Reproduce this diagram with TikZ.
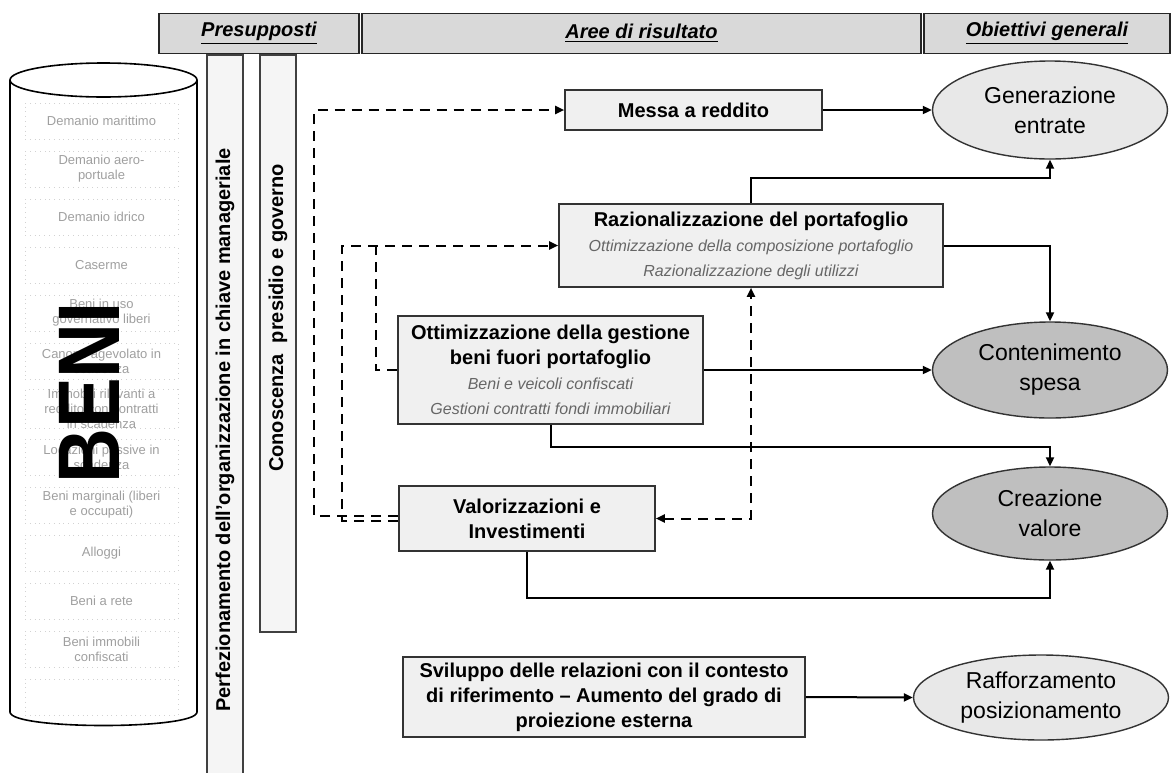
\documentclass[tikz,border=0pt]{standalone}
\usepackage{fontspec}
\setmainfont{Liberation Sans}
\usepackage{graphicx}
\usepackage{xcolor}
\usepackage{tikz}
\usetikzlibrary{arrows.meta,positioning,shapes.geometric}

\newcommand{\areasub}[1]{{\fontsize{8}{11}\selectfont\mdseries\itshape\color{black!60}#1}}

\begin{document}
\begin{tikzpicture}[x=0.5pt,y=-0.5pt,
        >={Triangle[length=4.5pt,width=4pt]},
        head/.style={draw=black!85, line width=0.9pt, fill=gray!30, minimum height=20pt,
            font=\fontsize{10}{12}\selectfont\bfseries\itshape},
        vbar/.style={draw=black!75, line width=0.8pt, fill=gray!8, rotate=90,
            minimum height=18pt, inner sep=0pt, font=\fontsize{10}{12}\selectfont\bfseries},
        item/.style={draw=gray!35, dotted, minimum width=76.5pt, minimum height=18pt,
            inner sep=0pt, align=center, text=gray!75, font=\fontsize{6.5}{7.4}\selectfont},
        area/.style={draw=black!80, line width=0.8pt, fill=gray!12, align=center,
            inner sep=2pt, font=\fontsize{10}{12.5}\selectfont\bfseries},
        goal/.style={ellipse, draw=black!80, line width=0.7pt, align=center,
            inner sep=0pt, font=\fontsize{11.5}{15}\selectfont},
        link/.style={line width=1pt, ->},
        dlink/.style={link, dash pattern=on 5pt off 3.5pt}]
    \useasboundingbox (0,0) rectangle (1173,772);

    % intestazioni
    \node[head, minimum width=100pt] (hpre) at (259,33.5) {\underline{Presupposti}};
    \node[head, minimum width=279.5pt] (hare) at (641.5,33.5) {\underline{Aree di risultato}};
    \node[head, minimum width=123pt] (hobi) at (1047,33.5) {\underline{Obiettivi generali}};

    % cilindro dei beni
    \draw[line width=0.8pt] (10,80) -- (10,712) .. controls (10,730) and (197,730) .. (197,712) -- (197,80);
    \draw[line width=0.8pt, fill=white] (103.5,80) ellipse [x radius=93.5, y radius=17];
    \foreach \k/\txt in {0/Demanio marittimo, 1/{Demanio aero-\\portuale}, 2/Demanio idrico,
            3/Caserme, 4/{Beni in uso\\governativo liberi}, 5/{Canone agevolato in\\scadenza},
            6/{Immobili rilevanti a\\reddito con contratti\\in scadenza},
            7/{Locazioni passive in\\scadenza}, 8/{Beni marginali (liberi\\e occupati)},
            9/Alloggi, 10/Beni a rete, 11/{Beni immobili\\confiscati}, 12/{}} {
            \node[item] (it\k) at (101.5,{121+48*\k}) {\txt};
        }
    \node[rotate=90, inner sep=0pt, font=\fontsize{38}{40}\selectfont\bfseries] (benilbl) at (89,393) {\scalebox{1}[1.15]{BENI}};

    % presupposti
    \node[vbar, minimum width=375pt] (perf) at (225,430) {Perfezionamento dell'organizzazione in chiave manageriale};
    \node[vbar, minimum width=288.5pt] (cono) at (278,343.5) {};
    \node[rotate=90, font=\fontsize{10}{12}\selectfont\bfseries] (conolbl) at (278,318) {Conoscenza~ presidio e governo};

    % aree di risultato
    \node[area, minimum width=128.5pt, minimum height=20pt] (messa) at (693.5,110) {Messa a reddito};
    \node[area, minimum width=192pt, minimum height=41.5pt] (razion) at (751,245.5)
        {Razionalizzazione del portafoglio\\\areasub{Ottimizzazione della composizione portafoglio}\\\areasub{Razionalizzazione degli utilizzi}};
    \node[area, minimum width=152.5pt, minimum height=54pt] (ottim) at (550.5,370)
        {Ottimizzazione della gestione\\beni fuori portafoglio\\\areasub{Beni e veicoli confiscati}\\\areasub{Gestioni contratti fondi immobiliari}};
    \node[area, minimum width=128pt, minimum height=32.5pt] (valor) at (527,518.5) {Valorizzazioni e\\Investimenti};
    \node[area, minimum width=201pt, minimum height=40pt] (svil) at (604,697)
        {Sviluppo delle relazioni con il contesto\\di riferimento -- Aumento del grado di\\proiezione esterna};

    % obiettivi generali
    \node[goal, fill=gray!18, minimum width=117.5pt, minimum height=49pt] (gen) at (1050,110) {Generazione\\entrate};
    \node[goal, fill=gray!50, minimum width=117.5pt, minimum height=48pt] (cont) at (1050,370) {Contenimento\\spesa};
    \node[goal, fill=gray!50, minimum width=117.5pt, minimum height=46.5pt] (crea) at (1050,513.5) {Creazione\\valore};
    \node[goal, fill=gray!18, minimum width=127.5pt, minimum height=42.5pt] (raff) at (1041,697.5) {Rafforzamento\\posizionamento};

    % collegamenti
    \draw[link] (messa.east) -- (gen.west);
    \draw[link] (razion.north) -- ++(0,-25) -| (gen.south);
    \draw[link] (razion.east) -| (cont.north);
    \draw[link] (ottim.east) -- (cont.west);
    \draw[link] (ottim.south) -- ++(0,22) -| (crea.north);
    \draw[link] (valor.south) -- ++(0,46) -| (crea.south);
    \draw[link] (svil.east) -- (raff.west);

    \coordinate (jn) at (376,245.5);
    \draw[dlink] ([yshift=1.5pt]valor.west) -- ++(-84,0) |- (messa.west);
    \draw[dlink] ([yshift=-1pt]valor.west) -- ++(-56,0) |- (razion.west);
    \draw[dlink, -] (ottim.west) -| (jn);
    \draw[dlink, <->] (valor.east) -| (razion.south);
\end{tikzpicture}
\end{document}
